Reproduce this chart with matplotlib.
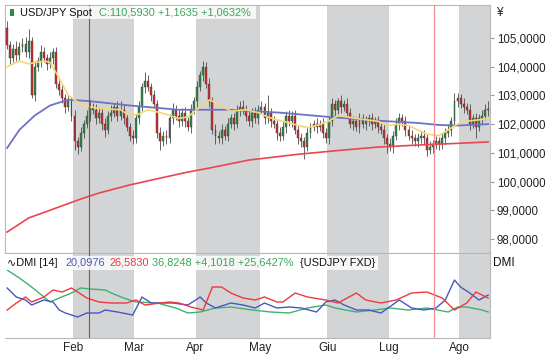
import matplotlib
matplotlib.use("Agg")
import matplotlib.pyplot as plt
from matplotlib.patches import Rectangle
import numpy as np

plt.rcParams['font.family'] = ['Liberation Sans', 'DejaVu Sans']

# ---- data (USD/JPY daily, Jan..Aug) ----
first_open = 105.35
close = [
    104.75, 104.30, 104.60, 104.40, 104.70, 104.80, 104.50, 104.90, 103.00, 104.00,
    104.20, 104.50, 104.30, 104.10, 104.30, 104.50, 103.40, 103.20, 102.90, 102.60,
    102.80, 102.30, 101.40, 101.20, 101.70, 102.00, 102.30, 102.60, 102.50, 102.20,
    102.40, 102.00, 101.80, 102.30, 102.40, 102.60, 102.30, 102.50, 102.20, 101.90,
    101.60, 101.50, 102.20, 102.60, 103.30, 103.50, 103.30, 103.00, 102.70, 101.70,
    101.40, 101.60, 101.50, 102.20, 102.50, 102.30, 102.10, 102.40, 102.10, 101.90,
    102.50, 102.80, 103.30, 103.70, 104.00, 103.40, 102.80, 101.80, 101.60, 101.50,
    101.80, 101.60, 102.00, 102.20, 102.00, 102.50, 102.60, 102.50, 102.30, 102.10,
    102.40, 102.20, 102.50, 102.60, 102.20, 102.40, 102.10, 102.00, 101.70, 101.60,
    101.90, 102.30, 102.10, 102.30, 101.80, 101.50, 101.40, 101.20, 101.70, 101.90,
    102.00, 101.90, 102.00, 101.70, 101.50, 102.10, 102.70, 102.50, 102.80, 102.60,
    102.70, 102.40, 102.00, 102.10, 101.90, 102.20, 102.00, 102.10, 102.20, 102.00,
    102.10, 101.90, 101.80, 101.50, 101.30, 101.20, 101.60, 102.00, 102.20, 102.10,
    101.80, 101.60, 101.50, 101.40, 101.50, 101.60, 101.50, 101.10, 101.20, 101.30,
    101.40, 101.30, 101.50, 101.70, 101.80, 102.10, 102.80, 102.90, 102.70, 102.60,
    102.50, 102.00, 102.20, 101.90, 102.20, 102.30, 102.50, 102.50]
up_wick = [
    0.25, 0.15, 0.20, 0.30, 0.15, 0.20, 0.25, 0.40, 0.15, 0.20,
    0.15, 0.25, 0.20, 0.15, 0.20, 0.15, 0.20, 0.15, 0.20, 0.15,
    0.20, 0.15, 0.20, 0.15, 0.20, 0.15, 0.20, 0.25, 0.15, 0.20,
    0.20, 0.15, 0.20, 0.15, 0.25, 0.15, 0.20, 0.30, 0.15, 0.20,
    0.15, 0.20, 0.15, 0.20, 0.15, 0.30, 0.20, 0.15, 0.20, 0.15,
    0.20, 0.15, 0.20, 0.15, 0.25, 0.15, 0.20, 0.15, 0.20, 0.15,
    0.20, 0.15, 0.20, 0.15, 0.20, 0.15, 0.20, 0.15, 0.20, 0.15,
    0.20, 0.15, 0.20, 0.15, 0.20, 0.15, 0.20, 0.25, 0.15, 0.20,
    0.15, 0.20, 0.15, 0.20, 0.15, 0.60, 0.15, 0.20, 0.15, 0.20,
    0.20, 0.15, 0.20, 0.15, 0.20, 0.15, 0.20, 0.15, 0.20, 0.15,
    0.15, 0.20, 0.15, 0.20, 0.15, 0.20, 0.20, 0.15, 0.10, 0.20,
    0.15, 0.20, 0.15, 0.20, 0.15, 0.20, 0.15, 0.20, 0.15, 0.20,
    0.15, 0.20, 0.15, 0.20, 0.15, 0.20, 0.15, 0.20, 0.20, 0.15,
    0.20, 0.15, 0.20, 0.15, 0.20, 0.15, 0.20, 0.15, 0.20, 0.15,
    0.20, 0.15, 0.20, 0.15, 0.20, 0.15, 0.30, 0.20, 0.15, 0.20,
    0.15, 0.20, 0.15, 0.20, 0.15, 0.20, 0.20, 0.30]
dn_wick = [
    0.15, 0.20, 0.15, 0.20, 0.15, 0.20, 0.15, 0.20, 0.10, 0.20,
    0.15, 0.20, 0.15, 0.20, 0.15, 0.20, 0.15, 0.20, 0.15, 0.20,
    0.15, 0.20, 0.30, 0.25, 0.15, 0.20, 0.15, 0.20, 0.15, 0.20,
    0.15, 0.20, 0.25, 0.15, 0.20, 0.15, 0.20, 0.15, 0.20, 0.15,
    0.20, 0.20, 0.15, 0.20, 0.15, 0.20, 0.15, 0.20, 0.15, 0.20,
    0.30, 0.15, 0.20, 0.15, 0.20, 0.15, 0.20, 0.15, 0.20, 0.15,
    0.20, 0.15, 0.20, 0.15, 0.20, 0.15, 0.20, 0.15, 0.30, 0.15,
    0.20, 0.15, 0.20, 0.15, 0.20, 0.15, 0.20, 0.15, 0.20, 0.15,
    0.20, 0.15, 0.20, 0.15, 0.20, 0.15, 0.20, 0.15, 0.25, 0.20,
    0.15, 0.20, 0.15, 0.20, 0.15, 0.20, 0.20, 0.40, 0.15, 0.20,
    0.15, 0.20, 0.15, 0.20, 0.15, 0.20, 0.15, 0.20, 0.15, 0.20,
    0.15, 0.20, 0.15, 0.20, 0.15, 0.20, 0.15, 0.20, 0.15, 0.20,
    0.15, 0.20, 0.15, 0.20, 0.30, 0.15, 0.20, 0.15, 0.20, 0.15,
    0.20, 0.15, 0.20, 0.15, 0.20, 0.15, 0.20, 0.20, 0.15, 0.20,
    0.15, 0.20, 0.15, 0.20, 0.15, 0.20, 0.15, 0.20, 0.15, 0.20,
    0.15, 0.20, 0.15, 0.40, 0.15, 0.20, 0.15, 0.20]

# moving averages (day index, price)
ma_fast_day = [0, 4, 7, 12, 14, 17, 20, 24, 27, 30, 37, 40, 43, 46, 50, 53, 56, 59, 63, 66, 69, 73,
               78, 82, 85, 89, 92, 95, 98, 102, 105, 108, 111, 115, 121, 124, 128, 131, 134,
               137, 141, 144, 147, 150, 154, 157]
ma_fast = [104.0, 104.2, 104.1, 104.2, 104.15, 103.6, 103.0, 102.7, 102.6, 102.55, 102.5, 102.3,
           102.35, 102.5, 102.4, 102.3, 102.2, 102.25, 102.6, 102.84, 102.7, 102.45, 102.5,
           102.4, 102.25, 102.12, 102.05, 101.95, 101.88, 101.98, 102.1, 102.3, 102.25, 102.18,
           102.1, 101.95, 102.0, 101.95, 101.8, 101.65, 101.6, 101.8, 102.0, 102.1, 102.15, 102.2]
ma_mid_day = [0, 4, 9, 14, 17, 20, 27, 40, 56, 72, 89, 105, 121, 134, 141, 147, 157]
ma_mid = [101.17, 101.8, 102.3, 102.65, 102.75, 102.85, 102.8, 102.65, 102.5, 102.5, 102.4,
          102.25, 102.12, 102.04, 101.97, 101.95, 102.0]
ma_slow_day = [0, 7, 14, 24, 30, 40, 50, 59, 66, 79, 95, 108, 121, 134, 147, 157]
ma_slow = [98.24, 98.73, 99.0, 99.39, 99.6, 99.88, 100.12, 100.33, 100.47, 100.75, 100.95,
           101.08, 101.2, 101.27, 101.33, 101.38]

# DMI panel
dmi_plus_day = [0, 3, 6, 8, 12, 15, 17, 19, 23, 26, 30, 32, 36, 41, 44, 47, 51, 54, 59, 63, 65, 68,
                73, 77, 81, 84, 88, 92, 96, 101, 104, 107, 110, 114, 118, 122, 128, 132, 136,
                140, 143, 146, 148, 151, 154, 157]
dmi_plus = [50, 41, 38, 33, 38, 36, 28, 25, 21, 25, 25, 28, 26, 23, 41, 35, 35, 35, 33, 41, 35, 30,
            35, 33, 30, 35, 30, 31, 30, 26, 36, 38, 33, 28, 28, 25, 38, 30, 28, 30, 38, 58, 51,
            45, 38, 43]
dmi_minus_day = [0, 3, 6, 8, 12, 15, 18, 21, 26, 30, 34, 39, 42, 45, 50, 53, 56, 60, 64, 67, 70, 73,
                 77, 81, 84, 88, 90, 94, 98, 104, 108, 114, 117, 122, 127, 132, 137, 142, 146,
                 150, 153, 157]
dmi_minus = [28, 35, 41, 36, 41, 48, 46, 50, 40, 36, 35, 35, 38, 33, 35, 36, 35, 31, 28, 51, 51, 45,
             40, 38, 41, 36, 36, 45, 41, 38, 35, 45, 38, 35, 38, 45, 46, 40, 28, 35, 46, 40]
adx_day = [0, 4, 8, 12, 14, 17, 21, 24, 27, 32, 34, 38, 42, 49, 55, 59, 63, 68, 73, 80, 86, 92, 98,
           104, 107, 114, 120, 125, 131, 137, 144, 147, 150, 155, 157]
adx = [68, 60, 51, 41, 36, 40, 45, 50, 49, 48, 45, 40, 36, 35, 30, 25, 26, 30, 31, 28, 26, 25, 30,
       33, 30, 26, 28, 30, 28, 30, 26, 31, 31, 28, 26]

months = ['Feb', 'Mar', 'Apr', 'May', 'Giu', 'Lug', 'Ago']
month_start = [22, 42, 62, 83, 105, 125, 148]
cursor_day = [26.6, 139.3]
yticks = [98, 99, 100, 101, 102, 103, 104, 105]

# ---- figure ----
W, H = 548, 356
fig = plt.figure(figsize=(W / 100, H / 100), dpi=100)


def px_axes(x0, y0, x1, y1):
    return fig.add_axes([x0 / W, 1 - y1 / H, (x1 - x0) / W, (y1 - y0) / H])


ax = px_axes(5, 5, 490, 253)
ax2 = px_axes(5, 253, 490, 338)

n = len(close)
days = np.arange(n)
c = np.array(close)
o = np.concatenate([[first_open], c[:-1]])
hi = np.maximum(o, c) + np.array(up_wick)
lo = np.minimum(o, c) - np.array(dn_wick)

shade = '#d3d4d6'
xmin, xmax = -0.7, 157.6
for a in (ax, ax2):
    for k in range(0, len(month_start), 2):
        end = month_start[k + 1] - 0.5 if k + 1 < len(month_start) else xmax
        a.axvspan(month_start[k] - 0.5, end, color=shade, lw=0, zorder=0)
    a.axvline(cursor_day[0], color='#c8343b', lw=0.8, zorder=5)
    a.axvline(cursor_day[1], color='#f28a90', lw=0.9, zorder=5)
    a.set_xlim(xmin, xmax)
    for s in a.spines.values():
        s.set_color('#b8b8b8')
        s.set_linewidth(0.8)

# candles
green, red = '#2e8b45', '#d12b2b'
cols = [green if c[i] >= o[i] else red for i in range(n)]
ax.vlines(days, lo, hi, color='#4a4a4a', lw=0.6, zorder=2)
body = np.maximum(np.abs(c - o), 0.03)
ax.bar(days, body, bottom=np.minimum(o, c), width=0.62, color=cols, edgecolor='#3a3a3a',
       linewidth=0.3, zorder=3)

ax.plot(ma_slow_day, ma_slow, color='#e8474f', lw=1.2, zorder=4)
ax.plot(ma_mid_day, ma_mid, color='#6b73c6', lw=1.3, zorder=4)
ax.plot(ma_fast_day, ma_fast, color='#f5d874', lw=1.2, zorder=4)

ax.set_ylim(97.51, 106.15)
ax.yaxis.tick_right()
ax.set_yticks(yticks)
ax.set_yticklabels([f'{v:.4f}'.replace('.', ',') for v in yticks], fontsize=8.3, color='#222222')
ax.tick_params(axis='y', length=3, color='#999999', pad=2)
ax.set_xticks([])

# DMI
ax2.plot(adx_day, adx, color='#3cb371', lw=1.0, zorder=3)
ax2.plot(dmi_plus_day, dmi_plus, color='#4a57be', lw=1.0, zorder=3)
ax2.plot(dmi_minus_day, dmi_minus, color='#eb3a3f', lw=1.0, zorder=3)
ax2.set_ylim(0, 85)
ax2.set_yticks([])
ax2.set_xticks([m - 0.5 for m in month_start])
ax2.set_xticklabels(months, fontsize=8.5, color='#222222')
ax2.tick_params(axis='x', length=0, pad=3)
ax2.spines['left'].set_visible(False)

# legends / labels
fig.patches.append(Rectangle((6 / W, 1 - 19 / H), 250 / W, 13 / H, transform=fig.transFigure,
                             facecolor='white', alpha=0.8, lw=0, zorder=10))
fig.patches.append(Rectangle((10 / W, 1 - 16 / H), 4 / W, 7 / H, transform=fig.transFigure,
                             facecolor=green, lw=0, zorder=11))
fs = 7.9
y1 = 1 - 12.5 / H
fig.text(20 / W, y1, 'USD/JPY Spot', fontsize=fs, va='center', color='#111111', zorder=12)
fig.text(99 / W, y1, 'C:110,5930 +1,1635 +1,0632%', fontsize=fs, va='center', color='#3aa65a', zorder=12)
fig.text(496 / W, y1, '¥', fontsize=8.5, va='center', color='#222222')

fig.patches.append(Rectangle((6 / W, 1 - 270 / H), 372 / W, 14 / H, transform=fig.transFigure,
                             facecolor='white', alpha=0.8, lw=0, zorder=10))
y2 = 1 - 262.5 / H
fig.text(7 / W, y2, '∿DMI [14]', fontsize=fs, va='center', color='#111111', zorder=12,
         family=['Liberation Sans', 'DejaVu Sans'])
fig.text(66 / W, y2, '20,0976', fontsize=fs, va='center', color='#4a57be', zorder=12)
fig.text(109 / W, y2, '26,5830', fontsize=fs, va='center', color='#eb3a3f', zorder=12)
fig.text(152 / W, y2, '36,8248 +4,1018 +25,6427%', fontsize=fs, va='center', color='#3aa65a', zorder=12)
fig.text(300 / W, y2, '{USDJPY FXD}', fontsize=fs, va='center', color='#111111', zorder=12)
fig.text(493 / W, y2, 'DMI', fontsize=8.5, va='center', color='#111111')

fig.savefig('out.png', dpi=100)
